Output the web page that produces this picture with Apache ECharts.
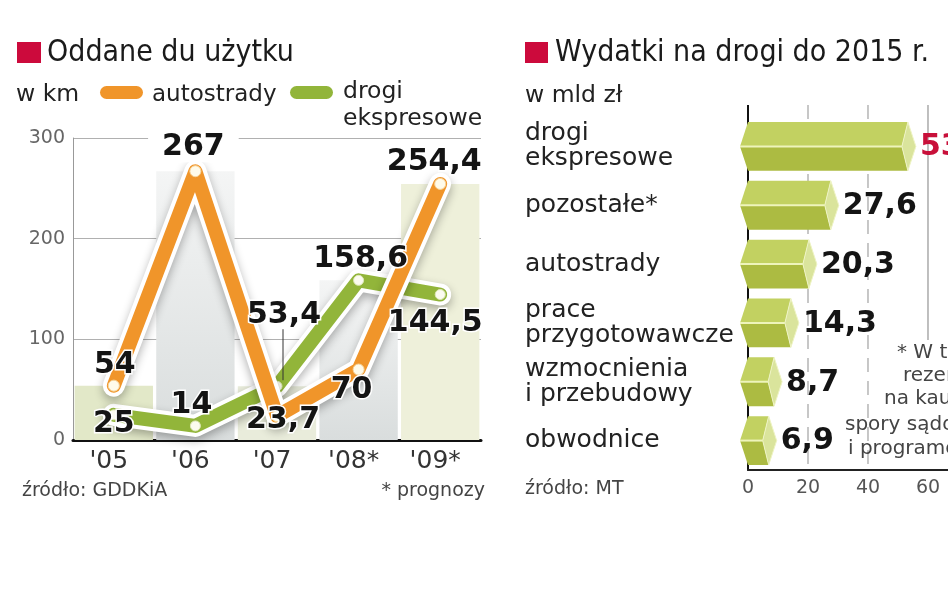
<!DOCTYPE html>
<html><head><meta charset="utf-8">
<script src="https://cdn.jsdelivr.net/npm/echarts/dist/echarts.min.js"></script>
<style>html,body{margin:0;padding:0;background:#fff}#c{width:948px;height:593px}</style>
</head><body><div id="c"></div>
<script>
// ---- data ----
const years = ["'05", "'06", "'07", "'08*", "'09*"];
const autostrady = [54, 267, 23.7, 70, 254.4];
const drogiEkspresowe = [25, 14, 53.4, 158.6, 144.5];
const bandHeights = [54, 267, 53.4, 158.6, 254.4];
const leftTicks = [0, 100, 200, 300];

const spendCategories = ['drogi\nekspresowe', 'pozostałe*', 'autostrady', 'prace\nprzygotowawcze', 'wzmocnienia\ni przebudowy', 'obwodnice'];
const spendValues = [53.3, 27.6, 20.3, 14.3, 8.7, 6.9];
const spendTicks = [0, 20, 40, 60];

// ---- styles ----
const F = "'DejaVu Sans Condensed','DejaVu Sans',sans-serif";
const FS = "'DejaVu Sans',sans-serif";
const ORANGE = '#f0952a', GREEN = '#92b53a', RED = '#cc0a3c';
const fmt = v => String(v).replace('.', ',');

// label placement (offsets from the point centre)
const orangeLabelOffsets = [[1, -20], [-2, -24], [6, 4], [-7, 21], [-6, -22]];
const greenLabelOffsets = [[0, 9], [-4, -21], [7, -71], [2, -21], [-5, 29]];
const grayGrad = new echarts.graphic.LinearGradient(0, 0, 0, 1, [{offset: 0, color: '#f4f5f5'}, {offset: 1, color: '#d9dddd'}]);
const bandColors = ['#e2e8c8', grayGrad, '#e9ecdb', grayGrad, '#eef0da'];

function labelItems(vals, offs, extra) {
  return vals.map((v, i) => ({
    value: v,
    label: Object.assign({offset: offs[i]}, extra && extra[i] ? extra[i] : {})
  }));
}

const chart = echarts.init(document.getElementById('c'), null, {renderer: 'canvas'});
const haloStyle = {color: '#fff', width: 22, cap: 'round', join: 'round', shadowColor: 'rgba(0,0,0,0.3)', shadowBlur: 10, shadowOffsetY: 4};
const labelBase = {show: true, position: 'inside', fontFamily: FS, fontWeight: 'bold', fontSize: 30, color: '#141414', opacity: 1,
  textBorderColor: '#fff', textBorderWidth: 3, formatter: p => fmt(p.value)};

const option = {
  animation: false,
  grid: [
    {left: 73, right: 467, top: 138, bottom: 153},
    {left: 748, right: 0, top: 117, bottom: 123}
  ],
  xAxis: [
    {type: 'category', gridIndex: 0, data: years, boundaryGap: true,
     axisLine: {lineStyle: {color: '#111', width: 3}}, axisTick: {show: false},
     axisLabel: {fontFamily: FS, fontSize: 25, color: '#333', margin: 9, padding: [0, 10, 0, 0]}},
    {type: 'value', gridIndex: 1, min: 0, max: 66.67, interval: 20,
     axisLine: {show: true, lineStyle: {color: '#222', width: 2}}, axisTick: {show: false},
     axisLabel: {fontFamily: FS, fontSize: 19, color: '#555', margin: 9, showMaxLabel: false,
       formatter: v => spendTicks.includes(v) ? String(v) : ''},
     splitLine: {show: false}}
  ],
  yAxis: [
    {type: 'value', gridIndex: 0, min: 0, max: 300, interval: 100,
     axisLine: {show: true, lineStyle: {color: '#999', width: 1}}, axisTick: {show: false},
     axisLabel: {fontFamily: FS, fontSize: 19, color: '#666', margin: 8,
       formatter: v => leftTicks.includes(v) ? String(v) : ''},
     splitLine: {lineStyle: {color: '#b0b0b0', width: 1}}},
    {type: 'category', gridIndex: 1, inverse: true, data: spendCategories,
     axisLine: {show: true, lineStyle: {color: '#111', width: 2}}, axisTick: {show: false},
     axisLabel: {fontFamily: FS, fontSize: 25, color: '#222', align: 'left', margin: 223, lineHeight: 25}}
  ],
  series: [
    {type: 'bar', xAxisIndex: 0, yAxisIndex: 0, barWidth: '96%', silent: true, z: 1,
     data: bandHeights.map((v, i) => ({value: v, itemStyle: {color: bandColors[i]}}))},
    {type: 'line', xAxisIndex: 0, yAxisIndex: 0, data: drogiEkspresowe, z: 2, symbol: 'none', silent: true,
     lineStyle: haloStyle},
    {type: 'line', xAxisIndex: 0, yAxisIndex: 0, data: drogiEkspresowe, z: 3, symbol: 'circle', symbolSize: 10,
     showSymbol: true,
     itemStyle: {color: '#fbfbef', borderColor: '#dfe8b8', borderWidth: 1},
     lineStyle: {color: GREEN, width: 14, cap: 'round', join: 'round'}},
    {type: 'line', xAxisIndex: 0, yAxisIndex: 0, data: autostrady, z: 4, symbol: 'none', silent: true,
     lineStyle: haloStyle},
    {type: 'line', xAxisIndex: 0, yAxisIndex: 0, data: autostrady, z: 5, symbol: 'circle', symbolSize: 11,
     itemStyle: {color: '#fffbea', borderColor: '#f7d59c', borderWidth: 1},
     lineStyle: {color: ORANGE, width: 14, cap: 'round', join: 'round'}},
    // label-only series on top
    {type: 'scatter', xAxisIndex: 0, yAxisIndex: 0, z: 8, symbolSize: 1, itemStyle: {color: 'rgba(0,0,0,0)', opacity: 1},
     label: labelBase, silent: true,
     data: labelItems(drogiEkspresowe, greenLabelOffsets)},
    {type: 'scatter', xAxisIndex: 0, yAxisIndex: 0, z: 9, symbolSize: 1, itemStyle: {color: 'rgba(0,0,0,0)', opacity: 1},
     label: labelBase, silent: true,
     data: labelItems(autostrady, orangeLabelOffsets, [null, {backgroundColor: '#fff', padding: [0, 14, 0, 14]}])},
    // right chart: hexagonal prism bars
    {type: 'custom', xAxisIndex: 1, yAxisIndex: 1, z: 5,
     data: spendValues.map((v, i) => [v, i]),
     encode: {x: 0, y: 1},
     renderItem: function (params, api) {
       const v = api.value(0), i = api.value(1);
       const p0 = api.coord([0, i]), p1 = api.coord([v, i]);
       const h = api.size([0, 1])[1] * 0.83;
       const x0 = p0[0], x1 = p1[0], yc = p0[1], t = yc - h / 2, b = yc + h / 2;
       const pt = 8, ins = 6;
       return {type: 'group', children: [
         {type: 'polygon', shape: {points: [[x0 - pt, yc], [x0, t], [x1, t], [x1 - ins, yc]]}, style: {fill: '#c2d161'}},
         {type: 'polygon', shape: {points: [[x0 - pt, yc], [x1 - ins, yc], [x1, b], [x0, b]]}, style: {fill: '#acbb42'}},
         {type: 'polygon', shape: {points: [[x1, t], [x1 + pt, yc], [x1, b], [x1 - ins, yc]]}, style: {fill: '#dae49c', stroke: '#eef3c4', lineWidth: 1}},
         {type: 'polyline', shape: {points: [[x0 - pt, yc], [x1 - ins, yc]]}, style: {stroke: '#eef4bb', lineWidth: 2}},
         {type: 'text', style: {text: fmt(v), x: x1 + pt + 4, y: yc + 1, verticalAlign: 'middle', align: 'left',
           font: "bold 30px 'DejaVu Sans'", fill: i === 0 ? '#c8103a' : '#141414'}}
       ]};
     }}
  ]
};
chart.setOption(option);

// decorations that depend on computed positions
const xAt = v => chart.convertToPixel({xAxisIndex: 1}, v);
const g534 = chart.convertToPixel({seriesIndex: 2}, [2, drogiEkspresowe[2]]);

function txt(text, x, y, size, color, extra, fam) {
  return {type: 'text', x: x, y: y, z: 20,
    style: Object.assign({text: text, fontFamily: fam || FS, fontSize: size, fill: color, verticalAlign: 'middle'}, extra || {})};
}
const dash = {stroke: '#b5b5b5', lineWidth: 1.5, lineDash: [14, 9]};
chart.setOption({graphic: [
  {type: 'line', z: 1, shape: {x1: xAt(20), y1: 105, x2: xAt(20), y2: 470}, style: dash},
  {type: 'line', z: 1, shape: {x1: xAt(40), y1: 105, x2: xAt(40), y2: 470}, style: dash},
  {type: 'line', z: 1, shape: {x1: xAt(60), y1: 105, x2: xAt(60), y2: 340}, style: {stroke: '#aaa', lineWidth: 1.5}},
  {type: 'line', z: 1, shape: {x1: xAt(0), y1: 105, x2: xAt(0), y2: 117}, style: {stroke: '#111', lineWidth: 2}},
  {type: 'line', z: 12, shape: {x1: g534[0] + 6, y1: g534[1] - 57, x2: g534[0] + 6, y2: g534[1] - 6}, style: {stroke: '#333', lineWidth: 1}},
  {type: 'rect', shape: {x: 17, y: 42, width: 24, height: 21}, style: {fill: RED}},
  txt('Oddane du użytku', 47, 53, 30, '#1a1a1a', null, F),
  txt('w km', 16, 95, 23.5, '#222'),
  {type: 'rect', shape: {x: 100, y: 86, width: 43, height: 13, r: 6.5}, style: {fill: ORANGE}},
  txt('autostrady', 152, 95, 23, '#222'),
  {type: 'rect', shape: {x: 290, y: 86, width: 43, height: 13, r: 6.5}, style: {fill: GREEN}},
  txt('drogi', 343, 92, 23.5, '#222'),
  txt('ekspresowe', 343, 119, 23.5, '#222'),
  txt('źródło: GDDKiA', 22, 491, 19, '#444'),
  txt('* prognozy', 485, 491, 19, '#444', {align: 'right'}),
  {type: 'rect', shape: {x: 525, y: 42, width: 23, height: 21}, style: {fill: RED}},
  txt('Wydatki na drogi do 2015 r.', 555, 53, 30, '#1a1a1a', null, F),
  txt('w mld zł', 525, 96, 23.5, '#222'),
  txt('źródło: MT', 525, 489, 19, '#444'),
  txt('* W tym', 897, 353, 20, '#444'),
  txt('rezerwa', 903, 376, 20, '#444'),
  txt('na kaucje,', 884, 399, 20, '#444'),
  txt('spory sądowe', 845, 425, 20, '#444'),
  txt('i programowanie', 848, 449, 20, '#444')
]});
</script></body></html>
